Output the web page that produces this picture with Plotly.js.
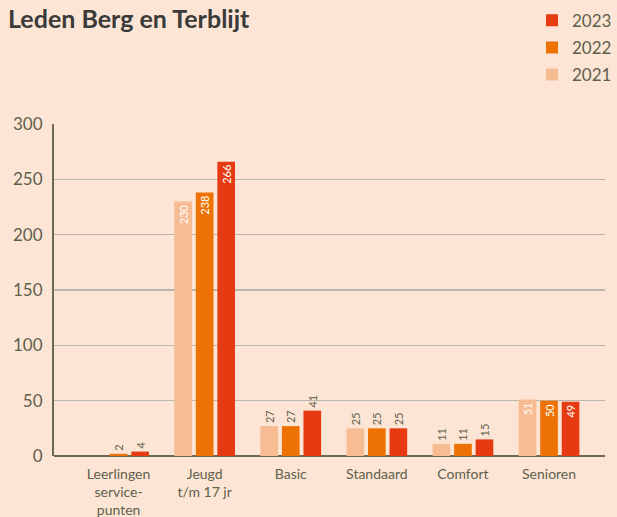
<!DOCTYPE html>
<html><head><meta charset="utf-8">
<script src="https://cdn.plot.ly/plotly-3.0.1.min.js"></script>
<style>html,body{margin:0;padding:0;background:#fce5d4;}</style>
</head><body>
<div id="chart" style="width:617px;height:517px;"></div>
<script>
var categories = ['Leerlingen<br>service-<br>punten', 'Jeugd<br>t/m 17 jr', 'Basic', 'Standaard', 'Comfort', 'Senioren'];
var years = ['2021', '2022', '2023'];
var values2021 = [null, 230, 27, 25, 11, 51];
var values2022 = [2, 238, 27, 25, 11, 50];
var values2023 = [4, 266, 41, 25, 15, 49];
var positions = ['outside', 'inside', 'outside', 'outside', 'outside', 'inside'];
var yTicks = [0, 50, 100, 150, 200, 250, 300];

var colors = ['#f7bc91', '#ee7203', '#e63a12'];
var series = [values2021, values2022, values2023];
var txtColor = '#5f5f4c';

var traces = series.map(function(vals, i){
  return {
    type: 'bar',
    name: years[i],
    x: categories,
    y: vals,
    text: vals.map(function(v){ return v === null ? '' : String(v); }),
    textposition: positions,
    textangle: -90,
    insidetextanchor: 'end',
    constraintext: 'none',
    cliponaxis: false,
    insidetextfont: {family: 'Lato, sans-serif', size: 11, color: '#ffffff'},
    outsidetextfont: {family: 'Lato, sans-serif', size: 11, color: txtColor},
    marker: {color: colors[i], line: {width: 0}},
    legendgroup: years[i],
    legendrank: 3 - i,
    hoverinfo: 'none'
  };
});

var layout = {
  width: 617, height: 517,
  paper_bgcolor: '#fce5d4', plot_bgcolor: '#fce5d4',
  margin: {l: 54, r: 0, t: 124, b: 61},
  font: {family: 'Lato, sans-serif', color: txtColor},
  title: {text: '<b>Leden Berg en Terblijt</b>', x: 0.013, xanchor: 'left', xref: 'container',
          y: 0.962, yanchor: 'middle', yref: 'container',
          font: {family: 'Lato, sans-serif', size: 25, color: '#3a3a3a'}},
  barmode: 'group',
  bargap: 0.25,
  bargroupgap: 0.18,
  showlegend: true,
  legend: {x: 0.868, xanchor: 'left', y: 1.365, yanchor: 'top', traceorder: 'grouped',
           tracegroupgap: 2, font: {size: 17, color: txtColor}, bgcolor: 'rgba(0,0,0,0)'},
  xaxis: {type: 'category', range: [-0.75, 5.65], showgrid: false, showline: false,
          ticks: '', ticklabelstandoff: 8, tickfont: {size: 14, color: txtColor}, fixedrange: true, zeroline: false},
  yaxis: {range: [0, 300], tickvals: yTicks, ticktext: yTicks.map(String), showgrid: true,
          gridcolor: '#b8b6ae', gridwidth: 1.3, showline: true, linecolor: '#6b6b55', linewidth: 2,
          zeroline: true, zerolinecolor: '#6b6b55', zerolinewidth: 2.5,
          ticks: '', ticklen: 0, ticklabelstandoff: 6, tickfont: {size: 17, color: txtColor}, fixedrange: true}
};

Plotly.newPlot('chart', traces, layout, {displayModeBar: false, staticPlot: true});
</script>
</body></html>
